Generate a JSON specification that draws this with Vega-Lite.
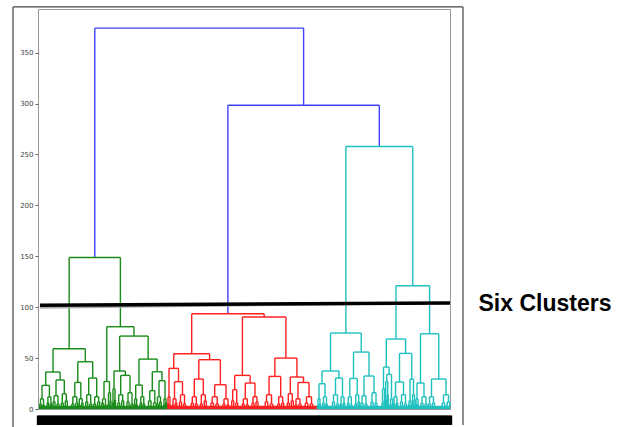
{
"$schema":"https://vega.github.io/schema/vega-lite/v6.json",
"width":412,"height":400,
"autosize":{"type":"none"},
"padding":{"left":38,"top":9,"right":173,"bottom":18},
"background":"white",
"config":{"view":{"stroke":"#999","strokeWidth":1}},
"datasets":{
"band":[{"x0":1,"x1":129,"c":"g"},{"x0":129,"x1":279,"c":"r"},{"x0":279,"x1":412,"c":"c"}],
"links":[
{"xl":56.8,"xr":265.6,"hl":148.8,"hr":298.3,"h":374,"c":"b"},
{"xl":189.9,"xr":341.3,"hl":93.5,"hr":257.8,"h":298.3,"c":"b"},
{"xl":31.15,"xr":82.4,"hl":59.2,"hr":80.8,"h":148.8,"c":"g"},
{"xl":15,"xr":47.3,"hl":36.3,"hr":46.4,"h":59.2,"c":"g"},
{"xl":7.7,"xr":22.15,"hl":23.2,"hr":28.5,"h":36.3,"c":"g"},
{"xl":4,"xr":11.4,"hl":10,"hr":12,"h":23.2,"c":"g"},
{"xl":18,"xr":26.3,"hl":13,"hr":15,"h":28.5,"c":"g"},
{"xl":39.8,"xr":54.7,"hl":26.1,"hr":30.4,"h":46.4,"c":"g"},
{"xl":36.8,"xr":42.8,"hl":12,"hr":10,"h":26.1,"c":"g"},
{"xl":50.7,"xr":58.7,"hl":14,"hr":12,"h":30.4,"c":"g"},
{"xl":68.75,"xr":95.95,"hl":27,"hr":71.6,"h":80.8,"c":"g"},
{"xl":66,"xr":71.5,"hl":10,"hr":16,"h":27,"c":"g"},
{"xl":81.7,"xr":110.15,"hl":37.3,"hr":49,"h":71.6,"c":"g"},
{"xl":76,"xr":87.35,"hl":20,"hr":33,"h":37.3,"c":"g"},
{"xl":82.7,"xr":92,"hl":14,"hr":16,"h":33,"c":"g"},
{"xl":101,"xr":119.15,"hl":23.5,"hr":36.6,"h":49,"c":"g"},
{"xl":97.7,"xr":104.3,"hl":10,"hr":12,"h":23.5,"c":"g"},
{"xl":114.3,"xr":124,"hl":18,"hr":27.8,"h":36.6,"c":"g"},
{"xl":121,"xr":127,"hl":12,"hr":10,"h":27.8,"c":"g"},
{"xl":2.5,"xr":5.5,"hl":5,"hr":4,"h":10,"c":"g"},{"xl":1.75,"xr":3.25,"hl":0,"hr":0,"h":5,"c":"g"},{"xl":4.75,"xr":6.25,"hl":0,"hr":0,"h":4,"c":"g"},
{"xl":9.9,"xr":12.9,"hl":6,"hr":5,"h":12,"c":"g"},{"xl":9.15,"xr":10.65,"hl":0,"hr":0,"h":6,"c":"g"},{"xl":12.15,"xr":13.65,"hl":0,"hr":0,"h":5,"c":"g"},
{"xl":16,"xr":20,"hl":7,"hr":5,"h":13,"c":"g"},{"xl":15,"xr":17,"hl":0,"hr":0,"h":7,"c":"g"},{"xl":19,"xr":21,"hl":0,"hr":0,"h":5,"c":"g"},
{"xl":24.3,"xr":28.3,"hl":6,"hr":8,"h":15,"c":"g"},{"xl":23.3,"xr":25.3,"hl":0,"hr":0,"h":6,"c":"g"},{"xl":27.3,"xr":29.3,"hl":0,"hr":0,"h":8,"c":"g"},
{"xl":34.8,"xr":38.8,"hl":5,"hr":6,"h":12,"c":"g"},{"xl":33.8,"xr":35.8,"hl":0,"hr":0,"h":5,"c":"g"},{"xl":37.8,"xr":39.8,"hl":0,"hr":0,"h":6,"c":"g"},
{"xl":41.3,"xr":44.3,"hl":4,"hr":6,"h":10,"c":"g"},{"xl":40.55,"xr":42.05,"hl":0,"hr":0,"h":4,"c":"g"},{"xl":43.55,"xr":45.05,"hl":0,"hr":0,"h":6,"c":"g"},
{"xl":48.7,"xr":52.7,"hl":7,"hr":5,"h":14,"c":"g"},{"xl":47.7,"xr":49.7,"hl":0,"hr":0,"h":7,"c":"g"},{"xl":51.7,"xr":53.7,"hl":0,"hr":0,"h":5,"c":"g"},
{"xl":56.7,"xr":60.7,"hl":5,"hr":7,"h":12,"c":"g"},{"xl":55.7,"xr":57.7,"hl":0,"hr":0,"h":5,"c":"g"},{"xl":59.7,"xr":61.7,"hl":0,"hr":0,"h":7,"c":"g"},
{"xl":64.5,"xr":67.5,"hl":6,"hr":4,"h":10,"c":"g"},{"xl":63.75,"xr":65.25,"hl":0,"hr":0,"h":6,"c":"g"},{"xl":66.75,"xr":68.25,"hl":0,"hr":0,"h":4,"c":"g"},
{"xl":70.5,"xr":72.5,"hl":5,"hr":8,"h":16,"c":"g"},{"xl":70,"xr":71,"hl":0,"hr":0,"h":5,"c":"g"},{"xl":72,"xr":73,"hl":0,"hr":0,"h":8,"c":"g"},
{"xl":75,"xr":77,"hl":6,"hr":9,"h":20,"c":"g"},{"xl":74.5,"xr":75.5,"hl":0,"hr":0,"h":6,"c":"g"},{"xl":76.5,"xr":77.5,"hl":0,"hr":0,"h":9,"c":"g"},
{"xl":80.7,"xr":84.7,"hl":6,"hr":8,"h":14,"c":"g"},{"xl":79.7,"xr":81.7,"hl":0,"hr":0,"h":6,"c":"g"},{"xl":83.7,"xr":85.7,"hl":0,"hr":0,"h":8,"c":"g"},
{"xl":90,"xr":94,"hl":7,"hr":5,"h":16,"c":"g"},{"xl":89,"xr":91,"hl":0,"hr":0,"h":7,"c":"g"},{"xl":93,"xr":95,"hl":0,"hr":0,"h":5,"c":"g"},
{"xl":96.7,"xr":98.7,"hl":5,"hr":4,"h":10,"c":"g"},{"xl":96.2,"xr":97.2,"hl":0,"hr":0,"h":5,"c":"g"},{"xl":98.2,"xr":99.2,"hl":0,"hr":0,"h":4,"c":"g"},
{"xl":102.8,"xr":105.8,"hl":6,"hr":5,"h":12,"c":"g"},{"xl":102.05,"xr":103.55,"hl":0,"hr":0,"h":6,"c":"g"},{"xl":105.05,"xr":106.55,"hl":0,"hr":0,"h":5,"c":"g"},
{"xl":111.8,"xr":116.8,"hl":8,"hr":6,"h":18,"c":"g"},{"xl":110.55,"xr":113.05,"hl":0,"hr":0,"h":8,"c":"g"},{"xl":115.55,"xr":118.05,"hl":0,"hr":0,"h":6,"c":"g"},
{"xl":119.5,"xr":122.5,"hl":5,"hr":7,"h":12,"c":"g"},{"xl":118.75,"xr":120.25,"hl":0,"hr":0,"h":5,"c":"g"},{"xl":121.75,"xr":123.25,"hl":0,"hr":0,"h":7,"c":"g"},
{"xl":126,"xr":128,"hl":4,"hr":6,"h":10,"c":"g"},{"xl":125.5,"xr":126.5,"hl":0,"hr":0,"h":4,"c":"g"},{"xl":127.5,"xr":128.5,"hl":0,"hr":0,"h":6,"c":"g"},
{"xl":153.7,"xr":226.15,"hl":54.3,"hr":90.3,"h":93.5,"c":"r"},
{"xl":135.75,"xr":171.6,"hl":39.9,"hr":48.4,"h":54.3,"c":"r"},
{"xl":131,"xr":140.5,"hl":12,"hr":26.8,"h":39.9,"c":"r"},
{"xl":136.5,"xr":144.5,"hl":10,"hr":14,"h":26.8,"c":"r"},
{"xl":160.8,"xr":182.35,"hl":29.4,"hr":23.8,"h":48.4,"c":"r"},
{"xl":156.3,"xr":165.3,"hl":12,"hr":14,"h":29.4,"c":"r"},
{"xl":176.7,"xr":188,"hl":12,"hr":10,"h":23.8,"c":"r"},
{"xl":204.4,"xr":247.9,"hl":33,"hr":50,"h":90.3,"c":"r"},
{"xl":196.7,"xr":212.15,"hl":19,"hr":25.5,"h":33,"c":"r"},
{"xl":207.3,"xr":217,"hl":10,"hr":12,"h":25.5,"c":"r"},
{"xl":236.85,"xr":258.9,"hl":32,"hr":31.4,"h":50,"c":"r"},
{"xl":231,"xr":242.7,"hl":14,"hr":12,"h":32,"c":"r"},
{"xl":252.3,"xr":265.5,"hl":15,"hr":26,"h":31.4,"c":"r"},
{"xl":260,"xr":271,"hl":10,"hr":12,"h":26,"c":"r"},
{"xl":130,"xr":132,"hl":5,"hr":4,"h":12,"c":"r"},{"xl":129.5,"xr":130.5,"hl":0,"hr":0,"h":5,"c":"r"},{"xl":131.5,"xr":132.5,"hl":0,"hr":0,"h":4,"c":"r"},
{"xl":135,"xr":138,"hl":4,"hr":6,"h":10,"c":"r"},{"xl":134.25,"xr":135.75,"hl":0,"hr":0,"h":4,"c":"r"},{"xl":137.25,"xr":138.75,"hl":0,"hr":0,"h":6,"c":"r"},
{"xl":142.5,"xr":146.5,"hl":7,"hr":5,"h":14,"c":"r"},{"xl":141.5,"xr":143.5,"hl":0,"hr":0,"h":7,"c":"r"},{"xl":145.5,"xr":147.5,"hl":0,"hr":0,"h":5,"c":"r"},
{"xl":154.3,"xr":158.3,"hl":6,"hr":5,"h":12,"c":"r"},{"xl":153.3,"xr":155.3,"hl":0,"hr":0,"h":6,"c":"r"},{"xl":157.3,"xr":159.3,"hl":0,"hr":0,"h":5,"c":"r"},
{"xl":163.3,"xr":167.3,"hl":5,"hr":8,"h":14,"c":"r"},{"xl":162.3,"xr":164.3,"hl":0,"hr":0,"h":5,"c":"r"},{"xl":166.3,"xr":168.3,"hl":0,"hr":0,"h":8,"c":"r"},
{"xl":174.2,"xr":179.2,"hl":6,"hr":5,"h":12,"c":"r"},{"xl":172.95,"xr":175.45,"hl":0,"hr":0,"h":6,"c":"r"},{"xl":177.95,"xr":180.45,"hl":0,"hr":0,"h":5,"c":"r"},
{"xl":186,"xr":190,"hl":5,"hr":4,"h":10,"c":"r"},{"xl":185,"xr":187,"hl":0,"hr":0,"h":5,"c":"r"},{"xl":189,"xr":191,"hl":0,"hr":0,"h":4,"c":"r"},
{"xl":194.7,"xr":198.7,"hl":8,"hr":6,"h":19,"c":"r"},{"xl":193.7,"xr":195.7,"hl":0,"hr":0,"h":8,"c":"r"},{"xl":197.7,"xr":199.7,"hl":0,"hr":0,"h":6,"c":"r"},
{"xl":205.3,"xr":209.3,"hl":5,"hr":4,"h":10,"c":"r"},{"xl":204.3,"xr":206.3,"hl":0,"hr":0,"h":5,"c":"r"},{"xl":208.3,"xr":210.3,"hl":0,"hr":0,"h":4,"c":"r"},
{"xl":215,"xr":219,"hl":6,"hr":7,"h":12,"c":"r"},{"xl":214,"xr":216,"hl":0,"hr":0,"h":6,"c":"r"},{"xl":218,"xr":220,"hl":0,"hr":0,"h":7,"c":"r"},
{"xl":228.5,"xr":233.5,"hl":7,"hr":5,"h":14,"c":"r"},{"xl":227.25,"xr":229.75,"hl":0,"hr":0,"h":7,"c":"r"},{"xl":232.25,"xr":234.75,"hl":0,"hr":0,"h":5,"c":"r"},
{"xl":240.7,"xr":244.7,"hl":5,"hr":6,"h":12,"c":"r"},{"xl":239.7,"xr":241.7,"hl":0,"hr":0,"h":5,"c":"r"},{"xl":243.7,"xr":245.7,"hl":0,"hr":0,"h":6,"c":"r"},
{"xl":250.3,"xr":254.3,"hl":6,"hr":8,"h":15,"c":"r"},{"xl":249.3,"xr":251.3,"hl":0,"hr":0,"h":6,"c":"r"},{"xl":253.3,"xr":255.3,"hl":0,"hr":0,"h":8,"c":"r"},
{"xl":258,"xr":262,"hl":4,"hr":5,"h":10,"c":"r"},{"xl":257,"xr":259,"hl":0,"hr":0,"h":4,"c":"r"},{"xl":261,"xr":263,"hl":0,"hr":0,"h":5,"c":"r"},
{"xl":268.5,"xr":273.5,"hl":6,"hr":5,"h":12,"c":"r"},{"xl":267.25,"xr":269.75,"hl":0,"hr":0,"h":6,"c":"r"},{"xl":272.25,"xr":274.75,"hl":0,"hr":0,"h":5,"c":"r"},
{"xl":307.9,"xr":374.75,"hl":74.6,"hr":121,"h":257.8,"c":"c"},
{"xl":292.5,"xr":323.25,"hl":37.3,"hr":55.9,"h":74.6,"c":"c"},
{"xl":284,"xr":301,"hl":24.8,"hr":30.4,"h":37.3,"c":"c"},
{"xl":281,"xr":287,"hl":10,"hr":12,"h":24.8,"c":"c"},
{"xl":297.5,"xr":304.5,"hl":14,"hr":12,"h":30.4,"c":"c"},
{"xl":315.5,"xr":331,"hl":30,"hr":32.4,"h":55.9,"c":"c"},
{"xl":311.8,"xr":319.2,"hl":12,"hr":14,"h":30,"c":"c"},
{"xl":326,"xr":336,"hl":13,"hr":16,"h":32.4,"c":"c"},
{"xl":357.95,"xr":391.6,"hl":68.7,"hr":73.9,"h":121,"c":"c"},
{"xl":348.3,"xr":367.6,"hl":41.2,"hr":54.6,"h":68.7,"c":"c"},
{"xl":345.5,"xr":351.1,"hl":20,"hr":34,"h":41.2,"c":"c"},
{"xl":348.75,"xr":353.5,"hl":27,"hr":10,"h":34,"c":"c"},
{"xl":361.5,"xr":373.75,"hl":26.5,"hr":29.4,"h":54.6,"c":"c"},
{"xl":357.5,"xr":365.5,"hl":12,"hr":14,"h":26.5,"c":"c"},
{"xl":372,"xr":375.5,"hl":8,"hr":14,"h":29.4,"c":"c"},
{"xl":382.5,"xr":400.75,"hl":25.5,"hr":29.4,"h":73.9,"c":"c"},
{"xl":379,"xr":386,"hl":10,"hr":12,"h":25.5,"c":"c"},
{"xl":393.5,"xr":408,"hl":12,"hr":14,"h":29.4,"c":"c"},
{"xl":280,"xr":282,"hl":4,"hr":5,"h":10,"c":"c"},{"xl":279.5,"xr":280.5,"hl":0,"hr":0,"h":4,"c":"c"},{"xl":281.5,"xr":282.5,"hl":0,"hr":0,"h":5,"c":"c"},
{"xl":285.5,"xr":288.5,"hl":6,"hr":5,"h":12,"c":"c"},{"xl":284.75,"xr":286.25,"hl":0,"hr":0,"h":6,"c":"c"},{"xl":287.75,"xr":289.25,"hl":0,"hr":0,"h":5,"c":"c"},
{"xl":295.5,"xr":299.5,"hl":7,"hr":5,"h":14,"c":"c"},{"xl":294.5,"xr":296.5,"hl":0,"hr":0,"h":7,"c":"c"},{"xl":298.5,"xr":300.5,"hl":0,"hr":0,"h":5,"c":"c"},
{"xl":303,"xr":306,"hl":5,"hr":6,"h":12,"c":"c"},{"xl":302.25,"xr":303.75,"hl":0,"hr":0,"h":5,"c":"c"},{"xl":305.25,"xr":306.75,"hl":0,"hr":0,"h":6,"c":"c"},
{"xl":310.3,"xr":313.3,"hl":6,"hr":4,"h":12,"c":"c"},{"xl":309.55,"xr":311.05,"hl":0,"hr":0,"h":6,"c":"c"},{"xl":312.55,"xr":314.05,"hl":0,"hr":0,"h":4,"c":"c"},
{"xl":317.7,"xr":320.7,"hl":5,"hr":7,"h":14,"c":"c"},{"xl":316.95,"xr":318.45,"hl":0,"hr":0,"h":5,"c":"c"},{"xl":319.95,"xr":321.45,"hl":0,"hr":0,"h":7,"c":"c"},
{"xl":324,"xr":328,"hl":6,"hr":5,"h":13,"c":"c"},{"xl":323,"xr":325,"hl":0,"hr":0,"h":6,"c":"c"},{"xl":327,"xr":329,"hl":0,"hr":0,"h":5,"c":"c"},
{"xl":334,"xr":338,"hl":7,"hr":6,"h":16,"c":"c"},{"xl":333,"xr":335,"hl":0,"hr":0,"h":7,"c":"c"},{"xl":337,"xr":339,"hl":0,"hr":0,"h":6,"c":"c"},
{"xl":344.5,"xr":346.5,"hl":6,"hr":8,"h":20,"c":"c"},{"xl":344,"xr":345,"hl":0,"hr":0,"h":6,"c":"c"},{"xl":346,"xr":347,"hl":0,"hr":0,"h":8,"c":"c"},
{"xl":347.75,"xr":349.75,"hl":9,"hr":14,"h":27,"c":"c"},{"xl":347.25,"xr":348.25,"hl":0,"hr":0,"h":9,"c":"c"},{"xl":349.25,"xr":350.25,"hl":0,"hr":0,"h":14,"c":"c"},
{"xl":352.5,"xr":354.5,"hl":5,"hr":4,"h":10,"c":"c"},{"xl":352,"xr":353,"hl":0,"hr":0,"h":5,"c":"c"},{"xl":354,"xr":355,"hl":0,"hr":0,"h":4,"c":"c"},
{"xl":356,"xr":359,"hl":5,"hr":6,"h":12,"c":"c"},{"xl":355.25,"xr":356.75,"hl":0,"hr":0,"h":5,"c":"c"},{"xl":358.25,"xr":359.75,"hl":0,"hr":0,"h":6,"c":"c"},
{"xl":363.5,"xr":367.5,"hl":7,"hr":5,"h":14,"c":"c"},{"xl":362.5,"xr":364.5,"hl":0,"hr":0,"h":7,"c":"c"},{"xl":366.5,"xr":368.5,"hl":0,"hr":0,"h":5,"c":"c"},
{"xl":371,"xr":373,"hl":4,"hr":3,"h":8,"c":"c"},{"xl":370.5,"xr":371.5,"hl":0,"hr":0,"h":4,"c":"c"},{"xl":372.5,"xr":373.5,"hl":0,"hr":0,"h":3,"c":"c"},
{"xl":374.5,"xr":376.5,"hl":6,"hr":9,"h":14,"c":"c"},{"xl":374,"xr":375,"hl":0,"hr":0,"h":6,"c":"c"},{"xl":376,"xr":377,"hl":0,"hr":0,"h":9,"c":"c"},
{"xl":378,"xr":380,"hl":5,"hr":4,"h":10,"c":"c"},{"xl":377.5,"xr":378.5,"hl":0,"hr":0,"h":5,"c":"c"},{"xl":379.5,"xr":380.5,"hl":0,"hr":0,"h":4,"c":"c"},
{"xl":384,"xr":388,"hl":6,"hr":5,"h":12,"c":"c"},{"xl":383,"xr":385,"hl":0,"hr":0,"h":6,"c":"c"},{"xl":387,"xr":389,"hl":0,"hr":0,"h":5,"c":"c"},
{"xl":391.5,"xr":395.5,"hl":5,"hr":6,"h":12,"c":"c"},{"xl":390.5,"xr":392.5,"hl":0,"hr":0,"h":5,"c":"c"},{"xl":394.5,"xr":396.5,"hl":0,"hr":0,"h":6,"c":"c"},
{"xl":405.5,"xr":410.5,"hl":6,"hr":7,"h":14,"c":"c"},{"xl":404.25,"xr":406.75,"hl":0,"hr":0,"h":6,"c":"c"},{"xl":409.25,"xr":411.75,"hl":0,"hr":0,"h":7,"c":"c"}
],
"cut":[{"x":2,"x2":412,"y":102,"y2":104}],
"note":[{"label":"Six Clusters","x":507,"y":103.5}],
"frame":[{"x":-25,"x2":425,"y":394.8,"y2":394.8},{"x":-25,"x2":-25,"y":394.8,"y2":-17.7},{"x":425,"x2":425,"y":394.8,"y2":-15.7}]
},
"layer":[
{"data":{"name":"band"},"mark":{"type":"rect"},
 "encoding":{
  "x":{"field":"x0","type":"quantitative","title":null,"scale":{"domain":[0,412],"nice":false,"zero":false},
   "axis":{"orient":"bottom","tickCount":206,"labels":false,"offset":6,"ticks":true,"tickSize":9.5,"tickWidth":3.4,"tickColor":"black","tickExtra":false,"domain":false,"grid":false,"title":null}},
  "x2":{"field":"x1"},
  "y":{"datum":0,"type":"quantitative","title":null,"scale":{"domain":[0,392.8],"nice":false,"zero":false},
   "axis":{"values":[0,50,100,150,200,250,300,350],"labelFontSize":7,"labelColor":"#444","labelFont":"DejaVu Sans","tickSize":3,"tickColor":"#666","domain":false,"grid":false,"title":null,"labelPadding":2}},
  "y2":{"datum":3.2},
  "color":{"field":"c","type":"nominal","legend":null,"scale":{"domain":["b","g","r","c"],"range":["#4040ff","#1a8c1a","#ff2020","#1fc0c0"]}}
 }},
{"data":{"name":"links"},"mark":{"type":"rule","strokeWidth":1.4},
 "encoding":{"x":{"field":"xl","type":"quantitative","title":null,"scale":{"domain":[0,412],"nice":false,"zero":false}},
  "y":{"field":"hl","type":"quantitative","title":null,"scale":{"domain":[0,392.8],"nice":false,"zero":false}},"y2":{"field":"h"},
  "color":{"field":"c","type":"nominal","legend":null}}},
{"data":{"name":"links"},"mark":{"type":"rule","strokeWidth":1.4},
 "encoding":{"x":{"field":"xr","type":"quantitative","title":null,"scale":{"domain":[0,412],"nice":false,"zero":false}},
  "y":{"field":"hr","type":"quantitative","title":null,"scale":{"domain":[0,392.8],"nice":false,"zero":false}},"y2":{"field":"h"},
  "color":{"field":"c","type":"nominal","legend":null}}},
{"data":{"name":"links"},"mark":{"type":"rule","strokeWidth":1.4},
 "encoding":{"x":{"field":"xl","type":"quantitative","title":null,"scale":{"domain":[0,412],"nice":false,"zero":false}},"x2":{"field":"xr"},
  "y":{"field":"h","type":"quantitative","title":null,"scale":{"domain":[0,392.8],"nice":false,"zero":false}},
  "color":{"field":"c","type":"nominal","legend":null}}},
{"data":{"name":"cut"},"mark":{"type":"rule","strokeWidth":2,"color":"#aaaaaa","yOffset":2.5},
 "encoding":{"x":{"field":"x","type":"quantitative","title":null,"scale":{"domain":[0,412],"nice":false,"zero":false}},"x2":{"field":"x2"},
  "y":{"field":"y","type":"quantitative","title":null,"scale":{"domain":[0,392.8],"nice":false,"zero":false}},"y2":{"field":"y2"}}},
{"data":{"name":"cut"},"mark":{"type":"rule","strokeWidth":3.5,"color":"black"},
 "encoding":{"x":{"field":"x","type":"quantitative","title":null,"scale":{"domain":[0,412],"nice":false,"zero":false}},"x2":{"field":"x2"},
  "y":{"field":"y","type":"quantitative","title":null,"scale":{"domain":[0,392.8],"nice":false,"zero":false}},"y2":{"field":"y2"}}},
{"data":{"name":"frame"},"mark":{"type":"rule","strokeWidth":1.2,"color":"#444"},
 "encoding":{"x":{"field":"x","type":"quantitative","title":null,"scale":{"domain":[0,412],"nice":false,"zero":false}},"x2":{"field":"x2"},
  "y":{"field":"y","type":"quantitative","title":null,"scale":{"domain":[0,392.8],"nice":false,"zero":false}},"y2":{"field":"y2"}}},
{"data":{"name":"note"},"mark":{"type":"text","font":"Liberation Sans","fontWeight":"bold","fontSize":23,"color":"black","align":"center","baseline":"middle"},
 "encoding":{"x":{"field":"x","type":"quantitative","title":null,"scale":{"domain":[0,412],"nice":false,"zero":false}},
  "y":{"field":"y","type":"quantitative","title":null,"scale":{"domain":[0,392.8],"nice":false,"zero":false}},
  "text":{"field":"label"}}}
]
}
